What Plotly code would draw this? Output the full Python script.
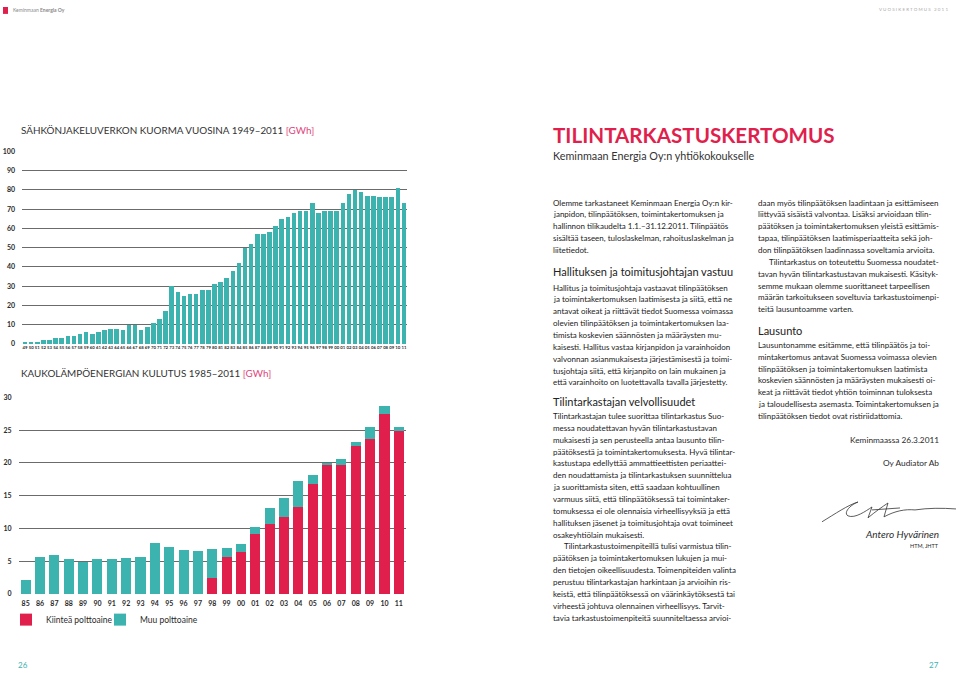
import plotly.graph_objects as go

# ── Page geometry / theme ───────────────────────────────────────────────────────
W, H = 959, 674
TEAL = "#3db3b0"
RED = "#e01f4d"
PINK = "#e0457b"
GRID = "#6b6b6b"
INK = "#2b2b2b"
FONT = "Lato, 'Noto Sans', sans-serif"

# ── Data: electricity network load 1949-2011 (GWh) ──────────────────────────────
load_years = [f"{y % 100:02d}" for y in range(1949, 2012)]
load_gwh = [
    0.5, 1, 1, 2, 2, 3, 3, 4, 4, 5,          # 49-58
    6, 5, 6, 7, 8, 8, 7, 10, 10, 7,          # 59-68
    9, 11, 13, 17, 30, 27, 25, 26, 26, 28,   # 69-78
    28, 31, 32, 34, 38, 42, 50, 52, 57, 57,  # 79-88
    58, 61, 65, 66, 68, 69, 69, 73, 68, 69,  # 89-98
    69, 69, 73, 78, 80, 79, 77, 77, 76, 76,  # 99-08
    76, 81, 73,                              # 09-11
]

# ── Data: district heat consumption 1985-2011 (GWh) ─────────────────────────────
heat_years = ["85", "86", "87", "88", "89", "90", "91", "92", "93", "94", "95", "96", "97",
              "98", "99", "00", "01", "02", "03", "04", "05", "06", "07", "08", "09", "10", "11"]
heat_solid = [0, 0, 0, 0, 0, 0, 0, 0, 0, 0, 0, 0, 0,
              2.5, 5.6, 6.4, 9.2, 10.6, 11.8, 13.3, 16.7, 19.6, 19.6, 22.5, 23.6, 27.4, 24.9]
heat_other = [2.2, 5.6, 6.0, 5.3, 4.8, 5.3, 5.4, 5.5, 5.6, 7.7, 7.2, 6.7, 6.5,
              4.3, 1.4, 1.2, 1.0, 2.5, 2.8, 4.0, 1.5, 0.4, 1.0, 0.7, 1.8, 1.3, 0.5]


def px_x(x):
    return x / W


def px_y(y):
    return 1 - y / H


fig = go.Figure()

fig.add_trace(go.Bar(
    x=load_years, y=load_gwh, width=0.76,
    marker=dict(color=TEAL, line=dict(width=0)),
    xaxis="x", yaxis="y", showlegend=False,
    hovertemplate="%{x}: %{y} GWh<extra></extra>",
))

fig.add_trace(go.Bar(
    x=heat_years, y=heat_solid, width=0.7, name="Kiinteä polttoaine",
    marker=dict(color=RED, line=dict(width=0)),
    xaxis="x2", yaxis="y2", legend="legend",
    hovertemplate="%{x}: %{y} GWh<extra></extra>",
))
fig.add_trace(go.Bar(
    x=heat_years, y=heat_other, width=0.7, name="Muu polttoaine",
    marker=dict(color=TEAL, line=dict(width=0)),
    xaxis="x2", yaxis="y2", legend="legend2",
    hovertemplate="%{x}: %{y} GWh<extra></extra>",
))

AXIS_Y = dict(
    showgrid=True, gridcolor=GRID, gridwidth=1, zeroline=False, showline=False,
    ticks="", tickfont=dict(size=7, color=INK, weight="bold"), ticklabelstandoff=6,
    fixedrange=True,
)
LEGEND = dict(
    orientation="h", y=px_y(622), xanchor="left", yanchor="middle",
    font=dict(size=8.5, color=INK), bgcolor="rgba(0,0,0,0)",
)

fig.update_layout(
    width=W, height=H,
    margin=dict(l=0, r=0, t=0, b=0),
    paper_bgcolor="white", plot_bgcolor="white",
    font=dict(family=FONT, color=INK),
    barmode="stack",
    xaxis=dict(
        domain=[px_x(22), px_x(407)], anchor="y", type="category",
        tickmode="linear", tick0=0, dtick=1,
        tickfont=dict(size=4.3, color=INK, weight="bold"), tickangle=0,
        showgrid=False, showline=False, ticks="",
    ),
    yaxis=dict(
        domain=[px_y(343), px_y(148)], anchor="x", range=[0, 100],
        tickvals=list(range(0, 101, 10)), **AXIS_Y,
    ),
    xaxis2=dict(
        domain=[px_x(18.5), px_x(406)], anchor="y2", type="category",
        tickfont=dict(size=7, color=INK, weight="bold"), tickangle=0,
        showgrid=False, showline=False, ticks="", ticklabelstandoff=4,
    ),
    yaxis2=dict(
        domain=[px_y(596), px_y(397)], anchor="x2", range=[0, 30],
        tickvals=list(range(0, 31, 5)), **AXIS_Y,
    ),
    legend=dict(x=px_x(6), **LEGEND),
    legend2=dict(x=px_x(100), **LEGEND),
)

# ── Text helpers ────────────────────────────────────────────────────────────────
annotations = []


def text(x, y, s, size=8.0, color=INK, anchor="left", weight="normal", style="normal"):
    annotations.append(dict(
        x=px_x(x), y=px_y(y), xref="paper", yref="paper", text=s, showarrow=False,
        xanchor=anchor, yanchor="middle",
        font=dict(size=size, color=color, family=FONT, weight=weight, style=style),
    ))


# Chart titles
text(19, 127, f"SÄHKÖNJAKELUVERKON KUORMA VUOSINA 1949–2011 <span style='color:{PINK}'>[GWh]</span>",
     size=9.9, color="#333333")
text(19, 372, f"KAUKOLÄMPÖENERGIAN KULUTUS 1985–2011 <span style='color:{PINK}'>[GWh]</span>",
     size=9.9, color="#333333")

# Page header / footer
text(11, 5, "Keminmaan <b>Energia Oy</b>", size=5, color="#888888")
text(950, 5, "V U O S I K E R T O M U S   2 0 1 1", size=4.5, color="#aaaaaa", anchor="right")
text(16, 668, "26", size=8, color=TEAL)
text(941, 668, "27", size=8, color=TEAL, anchor="right")

# Right page
text(551, 132, "TILINTARKASTUSKERTOMUS", size=20.6, color=RED, weight="bold")
text(551, 152, "Keminmaan Energia Oy:n yhtiökokoukselle", size=10.8, color="#333333")

left_col = [
    ("p", 200, [
        "Olemme tarkastaneet Keminmaan Energia Oy:n kir-",
        "janpidon, tilinpäätöksen, toimintakertomuksen ja",
        "hallinnon tilikaudelta 1.1.–31.12.2011. Tilinpäätös",
        "sisältää taseen, tuloslaskelman, rahoituslaskelman ja",
        "liitetiedot.",
    ]),
    ("h", 270, ["Hallituksen ja toimitusjohtajan vastuu"]),
    ("p", 286, [
        "Hallitus ja toimitusjohtaja vastaavat tilinpäätöksen",
        "ja toimintakertomuksen laatimisesta ja siitä, että ne",
        "antavat oikeat ja riittävät tiedot Suomessa voimassa",
        "olevien tilinpäätöksen ja toimintakertomuksen laa-",
        "timista koskevien säännösten ja määräysten mu-",
        "kaisesti. Hallitus vastaa kirjanpidon ja varainhoidon",
        "valvonnan asianmukaisesta järjestämisestä ja toimi-",
        "tusjohtaja siitä, että kirjanpito on lain mukainen ja",
        "että varainhoito on luotettavalla tavalla järjestetty.",
    ]),
    ("h", 401, ["Tilintarkastajan velvollisuudet"]),
    ("p", 416, [
        "Tilintarkastajan tulee suorittaa tilintarkastus Suo-",
        "messa noudatettavan hyvän tilintarkastustavan",
        "mukaisesti ja sen perusteella antaa lausunto tilin-",
        "päätöksestä ja toimintakertomuksesta. Hyvä tilintar-",
        "kastustapa edellyttää ammattieettisten periaattei-",
        "den noudattamista ja tilintarkastuksen suunnittelua",
        "ja suorittamista siten, että saadaan kohtuullinen",
        "varmuus siitä, että tilinpäätöksessä tai toimintaker-",
        "tomuksessa ei ole olennaisia virheellisyyksiä ja että",
        "hallituksen jäsenet ja toimitusjohtaja ovat toimineet",
        "osakeyhtiölain mukaisesti.",
        ">Tilintarkastustoimenpiteillä tulisi varmistua tilin-",
        "päätöksen ja toimintakertomuksen lukujen ja mui-",
        "den tietojen oikeellisuudesta. Toimenpiteiden valinta",
        "perustuu tilintarkastajan harkintaan ja arvioihin ris-",
        "keistä, että tilinpäätöksessä on väärinkäytöksestä tai",
        "virheestä johtuva olennainen virheellisyys. Tarvit-",
        "tavia tarkastustoimenpiteitä suunniteltaessa arvioi-",
    ]),
]

right_col = [
    ("p", 200, [
        "daan myös tilinpäätöksen laadintaan ja esittämiseen",
        "liittyvää sisäistä valvontaa. Lisäksi arvioidaan tilin-",
        "päätöksen ja toimintakertomuksen yleistä esittämis-",
        "tapaa, tilinpäätöksen laatimisperiaatteita sekä joh-",
        "don tilinpäätöksen laadinnassa soveltamia arvioita.",
        ">Tilintarkastus on toteutettu Suomessa noudatet-",
        "tavan hyvän tilintarkastustavan mukaisesti. Käsityk-",
        "semme mukaan olemme suorittaneet tarpeellisen",
        "määrän tarkoitukseen soveltuvia tarkastustoimenpi-",
        "teitä lausuntoamme varten.",
    ]),
    ("h", 329, ["Lausunto"]),
    ("p", 344, [
        "Lausuntonamme esitämme, että tilinpäätös ja toi-",
        "mintakertomus antavat Suomessa voimassa olevien",
        "tilinpäätöksen ja toimintakertomuksen laatimista",
        "koskevien säännösten ja määräysten mukaisesti oi-",
        "keat ja riittävät tiedot yhtiön toiminnan tuloksesta",
        "ja taloudellisesta asemasta. Toimintakertomuksen ja",
        "tilinpäätöksen tiedot ovat ristiriidattomia.",
    ]),
]

LINE = 12.0
for col_x, blocks in [(551, left_col), (756, right_col)]:
    for kind, y0, lines in blocks:
        for i, ln in enumerate(lines):
            y = y0 + i * LINE
            if kind == "h":
                text(col_x, y, ln, size=11, color="#222222")
            else:
                x = col_x
                if ln.startswith(">"):
                    ln, x = ln[1:], col_x + 11
                text(x, y, ln, size=8.0, color="#222222")

text(941, 440, "Keminmaassa 26.3.2011", size=8.3, anchor="right")
text(941, 464, "Oy Audiator Ab", size=8.3, anchor="right")
text(941, 535, "Antero Hyvärinen", size=10, anchor="right", style="italic")
text(941, 548, "HTM, JHTT", size=5.5, anchor="right")


def sig_path(pts):
    # scribbled signature, given as page pixels -> paper coordinates
    out = []
    for cmd, coords in pts:
        xy = " ".join(f"{px_x(x):.5f},{px_y(y):.5f}" for x, y in coords)
        out.append(f"{cmd}{xy}")
    return " ".join(out)


signature = sig_path([
    ("M", [(822, 523)]),
    ("C", [(835, 515), (848, 506), (858, 503)]),
    ("C", [(850, 506), (843, 514), (848, 517)]),
    ("C", [(855, 520), (866, 512), (872, 508)]),
    ("L", [(868, 519)]),
    ("C", [(875, 513), (882, 508), (888, 504)]),
    ("L", [(884, 518)]),
    ("C", [(895, 512), (905, 510), (915, 511)]),
    ("C", [(928, 509), (942, 509), (956, 510)]),
    ("M", [(872, 511)]),
    ("L", [(900, 509)]),
])

fig.update_layout(
    annotations=annotations,
    shapes=[
        dict(type="rect", xref="paper", yref="paper",
             x0=px_x(3), x1=px_x(8), y0=px_y(9), y1=px_y(2),
             fillcolor=RED, line=dict(width=0)),
        dict(type="path", xref="paper", yref="paper", path=signature,
             line=dict(color="#333333", width=0.8)),
    ],
)

fig.write_html("out.html", config=dict(displayModeBar=False),
               post_script="document.body.style.margin='0';")
